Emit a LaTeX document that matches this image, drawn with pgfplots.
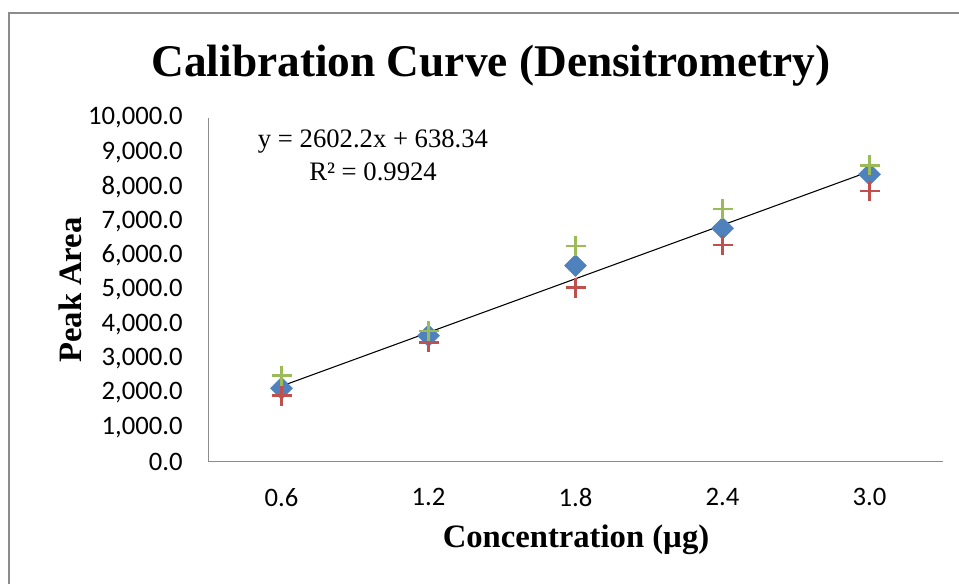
\documentclass[border=0pt]{standalone}
\usepackage{fontspec}
\setmainfont{Liberation Serif}
\newfontfamily\carlito{Carlito}
\usepackage{pgfplots}
\pgfplotsset{compat=1.18}

\definecolor{xlblue}{HTML}{4F81BD}
\definecolor{xlred}{HTML}{C0504D}
\definecolor{xlgreen}{HTML}{9BBB59}
\definecolor{framegray}{HTML}{8C8C8C}

\begin{document}
\begin{tikzpicture}[x=0.75pt,y=0.75pt]
\useasboundingbox (0,0) rectangle (959,583);
% chart-area frame
\draw[framegray, line width=1.6pt] (9,-20) -- (9,570) -- (975,570);
\coordinate (plotorigin) at (208,121.3);

\begin{axis}[
  at={(plotorigin)}, anchor=south west,
  scale only axis,
  width=551.25pt, height=257.8pt,
  xmin=0.3, xmax=3.3,
  ymin=0, ymax=10000,
  axis x line*=bottom, axis y line*=left,
  axis line style={draw=framegray, line width=0.75pt, -},
  major tick length=0pt,
  xtick={0.6,1.2,1.8,2.4,3.0},
  ytick={0,1000,...,10000},
  scaled ticks=false,
  /pgf/number format/assume math mode=true,
  xticklabel style={font=\carlito\fontsize{20}{22}\selectfont, /pgf/number format/.cd, fixed, fixed zerofill, precision=1},
  yticklabel style={font=\carlito\fontsize{20}{22}\selectfont, /pgf/number format/.cd, fixed, fixed zerofill, precision=1, 1000 sep={,}},
  xticklabel shift=16.5pt,
  yticklabel shift=15.5pt,
  clip=false,
]
% series with the fitted trendline
\addplot[only marks, mark=square*, mark size=5.8pt, mark options={rotate=45, fill=xlblue, draw=xlblue}]
  coordinates {(0.6,2136) (1.2,3666) (1.8,5703) (2.4,6790) (3.0,8362)};
% lower replicate
\addplot[only marks, mark=+, mark size=7.5pt, mark options={draw=xlred, line width=2pt}]
  coordinates {(0.6,1920) (1.2,3474) (1.8,5063) (2.4,6305) (3.0,7876)};
% upper replicate
\addplot[only marks, mark=+, mark size=7.5pt, mark options={draw=xlgreen, line width=2pt}]
  coordinates {(0.6,2502) (1.2,3802) (1.8,6276) (2.4,7352) (3.0,8624)};
% linear trendline y = 2602.2x + 638.34
\addplot[black, line width=0.8pt] coordinates {(0.6,2199.66) (3.0,8444.94)};
\end{axis}

\node[font=\bfseries\fontsize{34}{38}\selectfont] at (491,517) {Calibration Curve (Densitrometry)};
\node[font=\bfseries\fontsize{24.5}{28}\selectfont] at (576,43) {Concentration (µg)};
\node[font=\bfseries\fontsize{24.5}{28}\selectfont, rotate=90] at (70,293) {Peak Area};
\node[font=\fontsize{20}{22}\selectfont] at (373,441.3) {y = 2602.2x + 638.34};
\node[font=\fontsize{20}{22}\selectfont] at (373,411.3) {R² = 0.9924};
\end{tikzpicture}
\end{document}
